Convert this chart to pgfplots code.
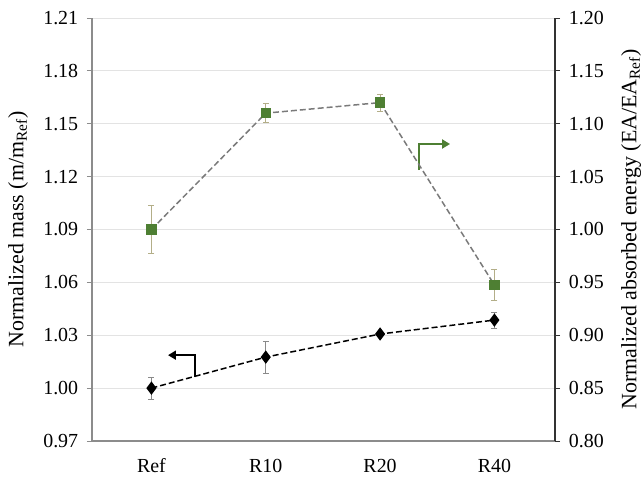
\documentclass[border=0pt]{standalone}
\usepackage{fontspec}
\setmainfont{Liberation Serif}
\usepackage{pgfplots}
\pgfplotsset{compat=1.18}
\usetikzlibrary{arrows.meta}
\definecolor{mgreen}{HTML}{4E7F33}
\definecolor{axgray}{HTML}{8C8C8C}
\definecolor{gridgray}{HTML}{E3E3E3}
\definecolor{errgreen}{HTML}{B3AE88}
\definecolor{errblack}{HTML}{8A8A8A}
\definecolor{dashgray}{HTML}{7A7A7A}

\begin{document}
\fontsize{20}{24}\selectfont
\begin{tikzpicture}
\pgfplotsset{
  every axis/.append style={
    scale only axis, width=463bp, height=423bp,
    at={(0,0)}, anchor=south west,
    xmin=-0.52, xmax=3.53,
    /pgf/number format/assume math mode=true,
    /pgf/number format/.cd, fixed, fixed zerofill, precision=2, /pgfplots/.cd,
    tick align=outside, major tick length=5bp,
    ticklabel style={font=\fontsize{20}{24}\selectfont},
  },
}
\path[use as bounding box] (-92bp,-42bp) rectangle (552bp,441bp);

\begin{axis}[
  axis y line*=left, axis x line*=bottom,
  axis line style={axgray, line width=1.1pt},
  ymin=0.97, ymax=1.21, ytick={0.97,1.00,...,1.215},
  ymajorgrids, grid style={gridgray, line width=0.9pt},
  ytick style={axgray, line width=0.9pt},
  xtick={0,1,2,3}, xticklabels={Ref,R10,R20,R40},
  xtick style={draw=none},
  xticklabel style={yshift=-6bp},
  yticklabel style={xshift=-2bp},
  ylabel={Normalized mass (m/m$_{\mathrm{Ref}}$)},
  every axis y label/.style={at={(axis description cs:0,0.5)}, rotate=90, anchor=center, yshift=74bp, font=\fontsize{22}{26}\selectfont},
]
\addplot[black, dash pattern=on 6pt off 3pt, line width=1.5pt,
  mark=diamond*, mark size=5.5pt, mark options={solid, fill=black},
  error bars/.cd, y dir=both, y explicit,
  error bar style={errblack, line width=0.6pt, solid}, error mark options={rotate=90, mark size=3pt, errblack, line width=0.6pt}]
  coordinates {
  (0,1.0000) +- (0,0.0063)
  (1,1.0176) +- (0,0.0090)
  (2,1.0307) +- (0,0.0012)
  (3,1.0386) +- (0,0.0045)
};
\draw[black, line width=2.2pt, -{Triangle[length=8pt,width=9pt]}]
  (axis cs:0.381,1.0063) -- (axis cs:0.381,1.0187) -- (axis cs:0.145,1.0187);
\draw[mgreen, line width=2.2pt, -{Triangle[length=8pt,width=9pt]}]
  (axis cs:2.341,1.1237) -- (axis cs:2.341,1.1385) -- (axis cs:2.612,1.1385);
\end{axis}

\begin{axis}[
  axis y line*=right, axis x line=none,
  axis line style={black!80, line width=1.1pt},
  ymin=0.80, ymax=1.20, ytick={0.80,0.85,...,1.205},
  ytick style={black!80, line width=0.9pt},
  yticklabel style={xshift=2bp},
  ylabel={Normalized absorbed energy (EA/EA$_{\mathrm{Ref}}$)},
  every axis y label/.style={at={(axis description cs:1,0.5)}, rotate=90, anchor=center, yshift=-76bp, font=\fontsize{22}{26}\selectfont},
]
\addplot[dashgray, dash pattern=on 6pt off 3pt, line width=1.5pt,
  mark=square*, mark size=4.5pt, mark options={solid, fill=mgreen, draw=mgreen},
  error bars/.cd, y dir=both, y explicit,
  error bar style={errgreen, line width=0.6pt, solid}, error mark options={rotate=90, mark size=3pt, errgreen, line width=0.6pt}]
  coordinates {
  (0,1.0000) +- (0,0.0225)
  (1,1.1100) +- (0,0.0090)
  (2,1.1200) +- (0,0.0080)
  (3,0.9475) +- (0,0.0145)
};
\end{axis}
\end{tikzpicture}
\end{document}
